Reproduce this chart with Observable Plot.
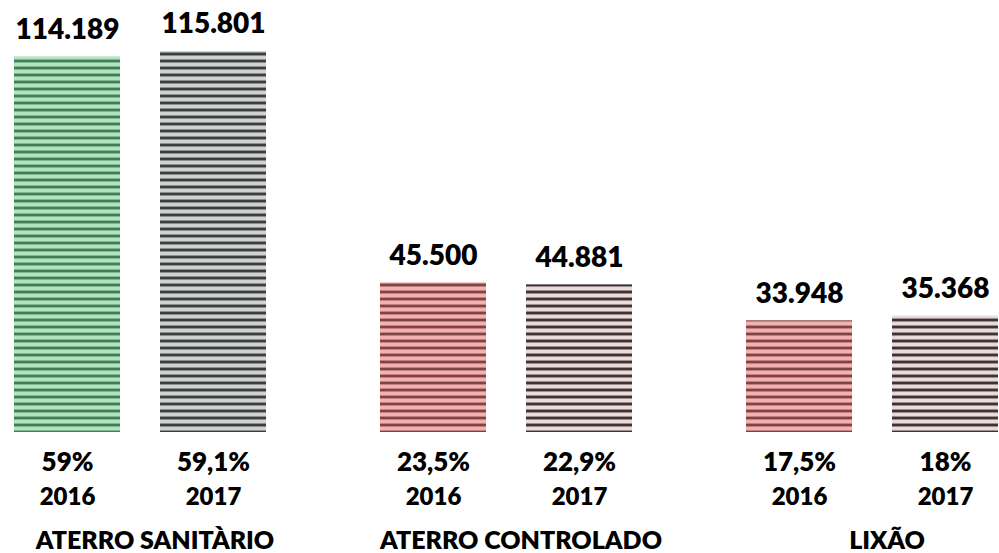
<!DOCTYPE html>
<html><head><meta charset="utf-8">
<script src="https://cdn.jsdelivr.net/npm/d3@7"></script>
<script src="https://cdn.jsdelivr.net/npm/@observablehq/plot@0.6"></script>
<style>html,body{margin:0;padding:0;background:#fff;overflow:hidden}</style>
</head><body><div id="chart"></div>
<script>
// Data
const groups = ["ATERRO SANITÀRIO", "ATERRO CONTROLADO", "LIXÃO"];
const years = ["2016", "2017"];
const values2016 = [114189, 45500, 33948];
const values2017 = [115801, 44881, 35368];
const pct2016 = [59, 23.5, 17.5];
const pct2017 = [59.1, 22.9, 18];

const rows = [];
groups.forEach((g, i) => {
  rows.push({group: g, year: years[0], value: values2016[i], pct: pct2016[i]});
  rows.push({group: g, year: years[1], value: values2017[i], pct: pct2017[i]});
});

const pt = d3.formatLocale({decimal: ",", thousands: ".", grouping: [3], currency: ["R$", ""]});
const fmtVal = pt.format(",");
const fmtPct = v => pt.format(",~f")(v) + "%";

// stripe patterns (styles)
const patterns = {
  pGreen: ["#b3e4bf", "#7fb792", "#427f57"],
  pGray:  ["#d0d2d1", "#8b8e8d", "#3b3f3e"],
  pRed:   ["#f7b0b0", "#c58080", "#7a4545"],
  pBrown: ["#e9dbdb", "#9c8c8c", "#3e3434"]
};
const patternOf = d => d.group === groups[0]
  ? (d.year === years[0] ? "url(#pGreen)" : "url(#pGray)")
  : (d.year === years[0] ? "url(#pRed)" : "url(#pBrown)");

const font = "Lato, 'Open Sans', sans-serif";
const W = 800;

const chart = Plot.plot({
  width: 999,
  height: 553,
  marginLeft: 14,
  marginRight: 0,
  marginTop: 51,
  marginBottom: 121,
  fx: {domain: groups, paddingInner: 0.309, paddingOuter: 0, axis: null, label: null},
  x: {domain: years, paddingInner: 0.273, paddingOuter: 0, axis: null, label: null},
  y: {domain: [0, 115801], axis: null},
  color: {type: "identity"},
  style: {fontFamily: font, background: "white", color: "black"},
  marks: [
    Plot.barY(rows, {fx: "group", x: "year", y: "value", fill: patternOf}),
    Plot.text(rows, {fx: "group", x: "year", y: "value", text: d => fmtVal(d.value),
      dy: -27, fontSize: 28, fontWeight: W, fill: "black"}),
    Plot.text(rows, {fx: "group", x: "year", frameAnchor: "bottom", text: d => fmtPct(d.pct),
      dy: 38, fontSize: 26, fontWeight: W, fill: "black"}),
    Plot.text(rows, {fx: "group", x: "year", frameAnchor: "bottom", text: "year",
      dy: 72, fontSize: 24, fontWeight: W, fill: "black"}),
    Plot.text(groups, {fx: d => d, text: d => d, frameAnchor: "bottom",
      dy: 116, dx: 14, fontSize: 25, fontWeight: W, fill: "black"})
  ]
});

// add pattern defs
const svg = d3.select(chart);
const defs = svg.insert("defs", ":first-child");
for (const [id, [light, mid, dark]] of Object.entries(patterns)) {
  const p = defs.append("pattern").attr("id", id).attr("patternUnits", "userSpaceOnUse")
    .attr("width", 8).attr("height", 7);
  p.append("rect").attr("width", 8).attr("height", 7).attr("fill", light);
  p.append("rect").attr("y", 3).attr("width", 8).attr("height", 1).attr("fill", mid);
  p.append("rect").attr("y", 4).attr("width", 8).attr("height", 2).attr("fill", dark);
  p.append("rect").attr("y", 6).attr("width", 8).attr("height", 1).attr("fill", mid);
}
document.getElementById("chart").appendChild(chart);
</script>
</body></html>
